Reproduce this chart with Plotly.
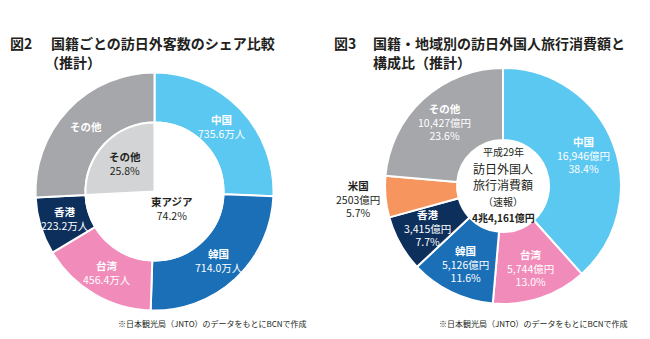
import math
import plotly.graph_objects as go

# ---- data -------------------------------------------------------------
# 図2: visitors by nationality (万人)
v_names = ["中国", "韓国", "台湾", "香港"]
v_counts = [735.6, 714.0, 456.4, 223.2]
east_asia_share = 74.2
other_share = 25.8
other_name = "その他"
east_asia_name = "東アジア"

# 図3: travel spending by nationality/region (億円)
s_names = ["中国", "台湾", "韓国", "香港", "米国", "その他"]
s_values = [16946, 5744, 5126, 3415, 2503, 10427]
s_amount_text = ["16,946億円", "5,744億円", "5,126億円", "3,415億円", "2503億円", "10,427億円"]
s_total_text = "4兆4,161億円"

# ---- styles -------------------------------------------------------------
W, H = 650, 339
FONT = "Noto Sans CJK JP, Noto Sans, sans-serif"
DARK = "#231f20"
C_CN, C_KR, C_TW, C_HK = "#5bc8f1", "#1a6fb7", "#f18cba", "#0d2f5c"
C_OTHER, C_OTHER_LIGHT, C_US = "#a6a7ab", "#d3d4d6", "#f6955e"

# pie geometry in pixels: centre x, centre y, outer radius, hole fraction
P2 = dict(cx=154.5, cy=191.5, r=119.0, hole=0.58)
P3 = dict(cx=503.0, cy=186.0, r=118.0, hole=0.39)


def domain(cx, cy, r):
    return dict(x=[(cx - r) / W, (cx + r) / W], y=[(H - (cy + r)) / H, (H - (cy - r)) / H])


def mid_points(values):
    """Clockwise mid-angle (degrees from 12 o'clock) of each slice."""
    tot = float(sum(values))
    out, acc = [], 0.0
    for v in values:
        out.append((acc + v / 2) / tot * 360)
        acc += v
    return out


def polar(p, ang, rad):
    a = math.radians(ang)
    x = p["cx"] + rad * math.sin(a)
    y = p["cy"] - rad * math.cos(a)
    return x / W, 1 - y / H


fig = go.Figure()
annotations = []


def label(xy, text, size, color):
    annotations.append(dict(
        x=xy[0], y=xy[1], xref="paper", yref="paper", text=text, showarrow=False,
        xanchor="center", yanchor="middle", align="center",
        font=dict(family=FONT, size=size, color=color)))


# ---- 図2 ------------------------------------------------------------------
other_count = sum(v_counts) * other_share / east_asia_share
ring_vals = v_counts + [other_count]
fig.add_trace(go.Pie(
    values=ring_vals, labels=v_names + [other_name], sort=False, direction="clockwise",
    hole=P2["hole"], domain=domain(P2["cx"], P2["cy"], P2["r"]),
    marker=dict(colors=[C_CN, C_KR, C_TW, C_HK, C_OTHER], line=dict(color="white", width=2)),
    textinfo="none", hoverinfo="skip", showlegend=False))

r_in2 = P2["r"] * P2["hole"]
fig.add_trace(go.Pie(
    values=[east_asia_share, other_share], labels=[east_asia_name, other_name + " "],
    sort=False, direction="clockwise",
    domain=domain(P2["cx"], P2["cy"], r_in2),
    marker=dict(colors=["rgba(255,255,255,0)", C_OTHER_LIGHT], line=dict(color="white", width=2)),
    textinfo="none", hoverinfo="skip", showlegend=False))

ring_mid2 = (r_in2 + P2["r"]) / 2
for name, cnt, ang in zip(v_names + [other_name], ring_vals, mid_points(ring_vals)):
    if name == other_name:
        txt = f"<b>{name}</b>"
    else:
        txt = f"<b>{name}</b><br>{cnt:.1f}万人"
    label(polar(P2, ang, ring_mid2), txt, 10.5, "white")

inner_angles = mid_points([east_asia_share, other_share])
label(polar(P2, inner_angles[0], r_in2 * 0.35), f"<b>{east_asia_name}</b><br>{east_asia_share:.1f}%", 10.5, DARK)
label(polar(P2, inner_angles[1], r_in2 * 0.59), f"<b>{other_name}</b><br>{other_share:.1f}%", 10.5, DARK)

# ---- 図3 ------------------------------------------------------------------
fig.add_trace(go.Pie(
    values=s_values, labels=s_names, sort=False, direction="clockwise",
    hole=P3["hole"], domain=domain(P3["cx"], P3["cy"], P3["r"]),
    marker=dict(colors=[C_CN, C_TW, C_KR, C_HK, C_US, C_OTHER], line=dict(color="white", width=2)),
    textinfo="none", hoverinfo="skip", showlegend=False))

tot3 = sum(s_values)
r_in3 = P3["r"] * P3["hole"]
for name, val, amt, ang in zip(s_names, s_values, s_amount_text, mid_points(s_values)):
    pct = val / tot3 * 100
    txt = f"<b>{name}</b><br>{amt}<br>{pct:.1f}%"
    if name == "米国":
        label(polar(P3, ang, P3["r"] * 1.23), txt, 10.5, DARK)
    else:
        label(polar(P3, ang, r_in3 + 0.56 * (P3["r"] - r_in3)), txt, 10.5, "white")

# centre text of the spending donut
cx3 = P3["cx"] / W
for txt, yy, size in [("平成29年", 151.5, 10), ("訪日外国人<br>旅行消費額", 176.5, 12),
                      ("（速報）", 201.5, 10), (f"<b>{s_total_text}</b>", 217.5, 10)]:
    annotations.append(dict(x=cx3, y=1 - yy / H, xref="paper", yref="paper", text=txt,
                            showarrow=False, xanchor="center", yanchor="middle",
                            font=dict(family=FONT, size=size, color=DARK)))

# ---- titles and notes ----------------------------------------------------
def text_at(px, py, txt, size, weight="bold", anchor="left"):
    annotations.append(dict(x=px / W, y=1 - py / H, xref="paper", yref="paper", text=txt,
                            showarrow=False, xanchor=anchor, yanchor="middle",
                            font=dict(family=FONT, size=size, color=DARK, weight=weight)))


text_at(8, 43, "図2", 14)
text_at(49, 43, "国籍ごとの訪日外客数のシェア比較", 14)
text_at(43, 62, "（推計）", 14)
text_at(332, 43, "図3", 14)
text_at(371, 43, "国籍・地域別の訪日外国人旅行消費額と", 14)
text_at(371, 62, "構成比（推計）", 14)

note = "※日本観光局（JNTO）のデータをもとにBCNで作成"
text_at(116, 323, note, 8, weight="normal")
text_at(437, 323, note, 8, weight="normal")

fig.update_layout(
    width=W, height=H, margin=dict(l=0, r=0, t=0, b=0),
    paper_bgcolor="white", plot_bgcolor="white",
    annotations=annotations,
)

fig.write_html("out.html")
